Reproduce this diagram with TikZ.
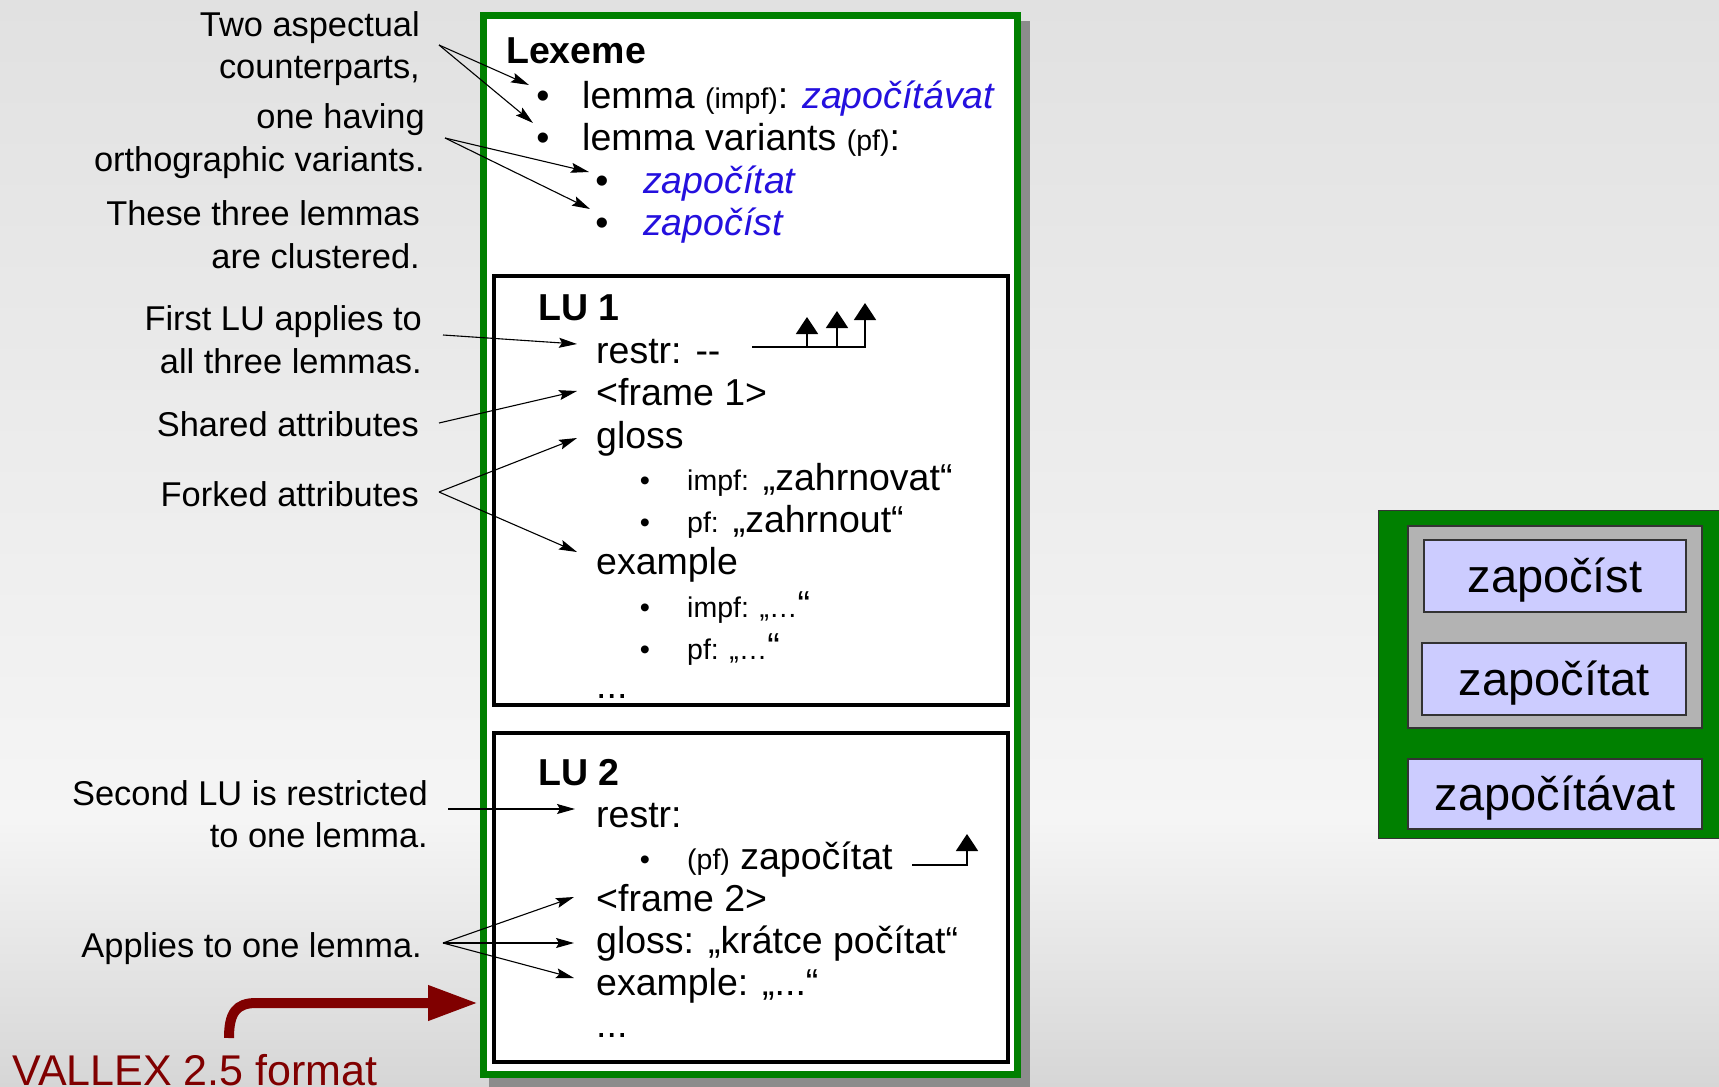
\documentclass[tikz,border=0pt]{standalone}
\usepackage{fontspec}
\setmainfont{Liberation Sans}
\usetikzlibrary{arrows.meta}

\definecolor{lexgreen}{RGB}{0,128,0}
\definecolor{lemblue}{RGB}{36,16,222}
\definecolor{fmtred}{RGB}{128,0,0}
\definecolor{lemfill}{RGB}{204,204,255}
\definecolor{clustgray}{RGB}{179,179,179}
\definecolor{bgtop}{RGB}{225,225,225}
\definecolor{bgmid}{RGB}{245,245,245}
\definecolor{bgbot}{RGB}{214,214,214}

\newcommand\smallpart{\fontsize{28.5}{34}\selectfont}
\newcommand\lemform[1]{\textcolor{lemblue}{\itshape #1}}

\begin{document}
\begin{tikzpicture}[x=1pt,y=-1pt,
  lab/.style={anchor=base east,inner sep=0pt,font=\fontsize{34.4}{40}\selectfont},
  txt/.style={anchor=base west,inner sep=0pt,font=\fontsize{37.5}{44}\selectfont},
  hdtxt/.style={anchor=base west,inner sep=0pt,font=\fontsize{37.5}{44}\selectfont\bfseries},
  bul/.style={anchor=base,inner sep=0pt,font=\fontsize{37.5}{44}\selectfont},
  sbul/.style={anchor=base,inner sep=0pt,font=\fontsize{29}{34}\selectfont},
  ptr/.style={draw=black,line width=1.1pt,-{Stealth[length=18pt,width=10pt,inset=3pt]}},
  treeline/.style={draw=black,line width=1.8pt},
  treetip/.style={treeline,-{Triangle[length=17pt,width=22pt]}},
  lubox/.style={draw=black,line width=3.5pt,fill=white,anchor=north west,inner sep=0pt,outer sep=0pt},
  clbox/.style={draw=black!80,line width=1.2pt,fill=lemfill,inner sep=0pt,
    font=\fontsize{47}{56}\selectfont,text height=36pt,text depth=4pt},
]
\useasboundingbox (0,0) rectangle (1719,1087);

% background
\shade[top color=bgtop,bottom color=bgmid] (0,0) rectangle (1719,820);
\shade[top color=bgmid,bottom color=bgbot] (0,820) rectangle (1719,1087);

% lexeme frame with its shadow
\fill[black!45] (489,21) rectangle (1030,1087);
\node[draw=lexgreen,line width=7pt,fill=white,anchor=north west,inner sep=0pt,outer sep=0pt,
      minimum width=534pt,minimum height=1059pt] (lexeme) at (483.5,15.5) {};
\node[lubox,minimum width=514pt,minimum height=429pt] (lu1box) at (494,276) {};
\node[lubox,minimum width=514pt,minimum height=329pt] (lu2box) at (494,733) {};

% lexeme header
\node[hdtxt] (lex) at (506,63) {Lexeme};
\node[bul] (lb1) at (543,108) {•};
\node[txt] (lem1) at (582,108) {lemma {\smallpart (impf)}: \lemform{započítávat}};
\node[bul] (lb2) at (543,150) {•};
\node[txt] (lem2) at (582,150) {lemma variants {\smallpart (pf)}:};
\node[bul] (vb1) at (602,193) {•};
\node[txt] (var1) at (643,193) {\lemform{započítat}};
\node[bul] (vb2) at (602,235) {•};
\node[txt] (var2) at (643,235) {\lemform{započíst}};

% first lexical unit
\node[hdtxt] (lu1) at (538,320) {LU 1};
\node[txt] (restr1) at (596,363) {restr: -{}-};
\node[txt] (frame1) at (596,405) {<frame 1>};
\node[txt] (gloss1) at (596,448) {gloss};
\node[sbul] (gb1) at (645,490) {•};
\node[txt] (gimpf) at (687,490) {{\smallpart impf:} „zahrnovat“};
\node[sbul] (gb2) at (645,532) {•};
\node[txt] (gpf) at (687,532) {{\smallpart pf:} „zahrnout“};
\node[txt] (ex1) at (596,574) {example};
\node[sbul] (eb1) at (645,617) {•};
\node[txt] (eimpf) at (687,617) {{\smallpart impf: „…}“};
\node[sbul] (eb2) at (645,659) {•};
\node[txt] (epf) at (687,659) {{\smallpart pf: „…}“};
\node[txt] (more1) at (596,698) {...};

% restriction tree of LU 1
\coordinate (t1a) at (752,347);
\coordinate (t1b) at (807,347);
\coordinate (t1c) at (837,347);
\coordinate (t1d) at (865,347);
\coordinate (t1e) at (865,303);
\coordinate (t1f) at (807,317);
\coordinate (t1g) at (837,311);
\draw[treetip] (t1a) -- (t1d) -- (t1e);
\draw[treetip] (t1b) -- (t1f);
\draw[treetip] (t1c) -- (t1g);

% second lexical unit
\node[hdtxt] (lu2) at (538,785) {LU 2};
\node[txt] (restr2) at (596,827) {restr:};
\node[sbul] (rb1) at (645,869) {•};
\node[txt] (rpf) at (687,869) {{\smallpart (pf)} započítat};
\node[txt] (frame2) at (596,911) {<frame 2>};
\node[txt] (gloss2) at (596,953) {gloss: „krátce počítat“};
\node[txt] (ex2) at (596,995) {example: „...“};
\node[txt] (more2) at (596,1037) {...};

% restriction tree of LU 2
\coordinate (t2a) at (912,865);
\coordinate (t2b) at (967,865);
\coordinate (t2c) at (967,834);
\draw[treetip] (t2a) -- (t2b) -- (t2c);

% annotations on the left
\node[lab] (a1) at (420,36) {Two aspectual};
\node[lab] (a2) at (420,78) {counterparts,};
\node[lab] (a3) at (425,128) {one having};
\node[lab] (a4) at (425,171) {orthographic variants.};
\node[lab] (a5) at (420,225) {These three lemmas};
\node[lab] (a6) at (420,268) {are clustered.};
\node[lab] (a7) at (422,330) {First LU applies to};
\node[lab] (a8) at (422,373) {all three lemmas.};
\node[lab] (a9) at (419,436) {Shared attributes};
\node[lab] (a10) at (419,506) {Forked attributes};
\node[lab] (a11) at (428,805) {Second LU is restricted};
\node[lab] (a12) at (428,847) {to one lemma.};
\node[lab] (a13) at (422,957) {Applies to one lemma.};

% pointer start points
\coordinate (p1) at (439,45);
\coordinate (p2) at (445,138);
\coordinate (p3) at (443,335);
\coordinate (p4) at (439,423);
\coordinate (p5) at (439,492);
\coordinate (p6) at (448,809);
\coordinate (p7) at (443,943);
% pointer end points
\coordinate (q1) at (529,85);
\coordinate (q2) at (533,123);
\coordinate (q3) at (589,172);
\coordinate (q4) at (590,209);
\coordinate (q5) at (577,344);
\coordinate (q6) at (577,391);
\coordinate (q7) at (577,438);
\coordinate (q8) at (577,552);
\coordinate (q9) at (575,809);
\coordinate (q10) at (574,897);
\coordinate (q11) at (574,943);
\coordinate (q12) at (574,978);

\draw[ptr] (p1) -- (q1);
\draw[ptr] (p1) -- (q2);
\draw[ptr] (p2) -- (q3);
\draw[ptr] (p2) -- (q4);
\draw[ptr] (p3) -- (q5);
\draw[ptr] (p4) -- (q6);
\draw[ptr] (p5) -- (q7);
\draw[ptr] (p5) -- (q8);
\draw[ptr] (p6) -- (q9);
\draw[ptr] (p7) -- (q10);
\draw[ptr] (p7) -- (q11);
\draw[ptr] (p7) -- (q12);

% format label and its arrow
\node[anchor=base west,inner sep=0pt,text depth=0pt,text=fmtred,font=\fontsize{43}{50}\selectfont] (fmt) at (12.5,1085) {VALLEX 2.5 format};
\coordinate (f1) at (229,1038);
\coordinate (f2) at (478,1003);
\draw[fmtred,line width=10pt,-{Triangle[length=50pt,width=33pt]}]
  (f1) .. controls (229,1013) and (236,1003) .. (256,1003) -- (f2);

% lemma cluster
\node[draw=black!80,line width=1.2pt,fill=lexgreen,anchor=north west,inner sep=0pt,
      minimum width=360pt,minimum height=328pt] (cluster) at (1378,510) {};
\node[draw=black!80,line width=1.2pt,fill=clustgray,inner sep=0pt,
      minimum width=294pt,minimum height=202pt] (variants) at (1555,627) {};
\node[clbox,minimum width=262pt,minimum height=72pt] (c1) at (1555,576) {započíst};
\node[clbox,minimum width=264pt,minimum height=72pt] (c2) at (1554,679) {započítat};
\node[clbox,minimum width=294pt,minimum height=70pt] (c3) at (1555,794) {započítávat};
\end{tikzpicture}
\end{document}
